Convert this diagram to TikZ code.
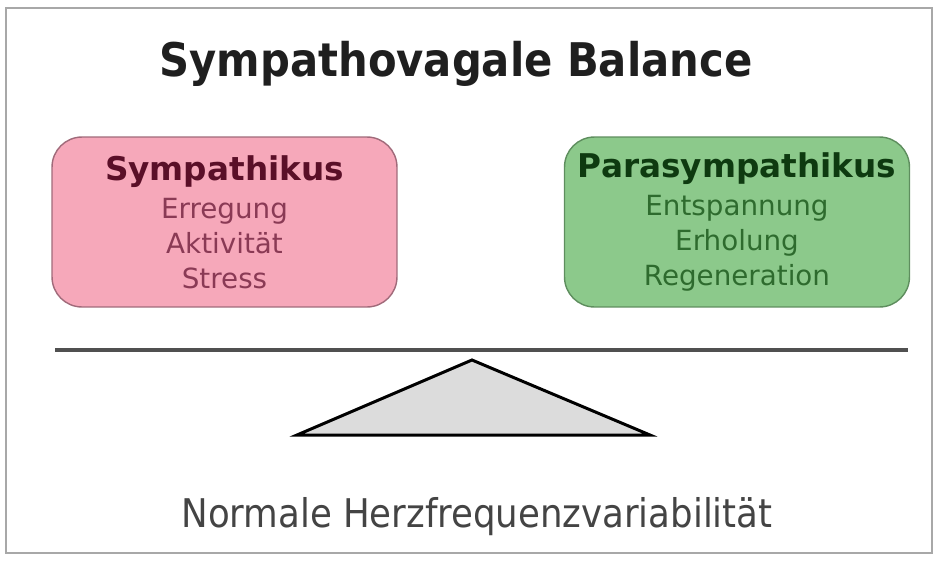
\documentclass[tikz,border=0pt]{standalone}
\usepackage{fontspec}
\setmainfont{DejaVu Sans}
\newfontfamily\condfont{DejaVu Sans Condensed}
\usetikzlibrary{positioning}

\definecolor{sympfill}{HTML}{F6A8BA}
\definecolor{sympdraw}{HTML}{A06A7A}
\definecolor{symphead}{HTML}{5A0F28}
\definecolor{symptext}{HTML}{8A3A55}
\definecolor{parafill}{HTML}{8CC98B}
\definecolor{paradraw}{HTML}{5E8E5E}
\definecolor{parahead}{HTML}{0E3A10}
\definecolor{paratext}{HTML}{2E6B2E}
\definecolor{framegray}{HTML}{A8A8A8}
\definecolor{beamgray}{HTML}{505050}
\definecolor{wedgefill}{HTML}{DCDCDC}

\newcommand{\sidehead}[2]{{\color{#1}\bfseries\fontsize{18.6}{22}\selectfont #2}}

\tikzset{
  side/.style={rounded corners=0.6cm, line width=0.8pt, minimum width=6.9cm,
    minimum height=3.4cm, align=center, font=\fontsize{15.8}{19.8}\selectfont}
}

\begin{document}
\begin{tikzpicture}[x=0.02cm, y=-0.02cm]
            \useasboundingbox (0,0) rectangle (941,562);
            \draw [framegray, line width=1.2pt] (6,8) rectangle (932,553);
            % title
            \node [text=black!88] (title) at (456,64) {\condfont\bfseries\fontsize{26.4}{30}\selectfont Sympathovagale Balance};
            % the two sides
            \node [side, fill=sympfill, draw=sympdraw, text=symptext] (symp) at (224.5,222)
                {\sidehead{symphead}{Sympathikus}\\[2pt]
                 Erregung\\Aktivität\\Stress};
            \node [side, fill=parafill, draw=paradraw, text=paratext] (para) at (737,222)
                {\sidehead{parahead}{Parasympathikus}\\[2pt]
                 Entspannung\\Erholung\\Regeneration};
            % beam and pivot
            \draw [beamgray, line width=2.6pt] (55,350) -- (908,350);
            \draw [fill=wedgefill, line width=1.7pt, line join=miter] (472,360) -- (650,435) -- (297,435) -- cycle;
            % caption
            \node [text=beamgray!85!black] (hrv) at (477,517) {\condfont\fontsize{22.5}{26}\selectfont Normale Herzfrequenzvariabilität};
        \end{tikzpicture}
\end{document}
